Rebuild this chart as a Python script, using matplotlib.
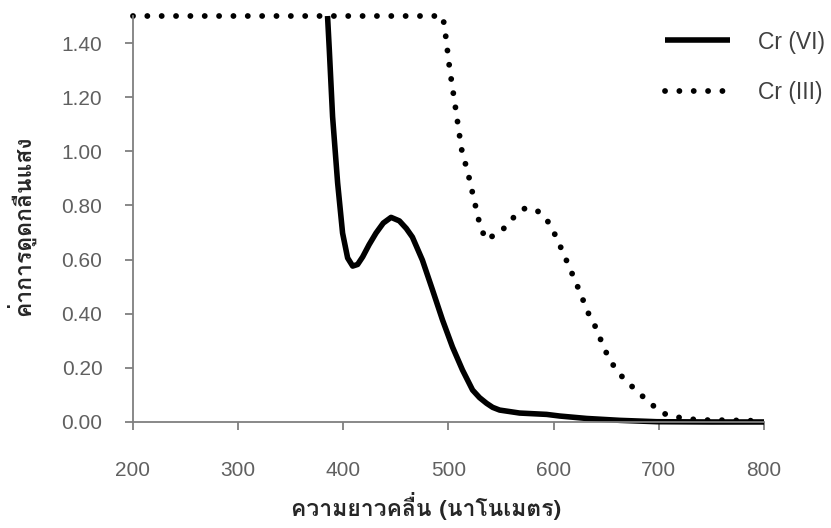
import numpy as np
import matplotlib
matplotlib.use('Agg')
import matplotlib.pyplot as plt
from matplotlib import font_manager
from matplotlib.ft2font import FT2Font

# ค่าการดูดกลืนแสงของ Cr (VI) และ Cr (III) ที่ความยาวคลื่นต่าง ๆ
wl_cr6 = [385, 386.7, 389.8, 394.6, 399.3, 404.1, 408.9, 413.6, 418.4, 424.5,
          431.1, 438, 445.4, 453.3, 459.9, 465.7, 475.2, 484.8, 494.3, 503.8,
          513.3, 522.9, 529.5, 536.2, 542, 548.6, 567.6, 593.3, 605.7, 631.4,
          662.9, 698, 750, 800]
abs_cr6 = [1.5, 1.374, 1.128, 0.883, 0.698, 0.606, 0.576, 0.582, 0.610, 0.655,
           0.698, 0.735, 0.756, 0.743, 0.715, 0.683, 0.598, 0.488, 0.377, 0.277,
           0.192, 0.118, 0.090, 0.069, 0.054, 0.044, 0.033, 0.028, 0.022, 0.013,
           0.006, 0.001, 0.0, 0.0]

wl_cr3 = [200, 300, 400, 494.3, 496.2, 501, 506.7, 512.4, 519, 524.8, 530.5,
          536.2, 541.9, 550.5, 557.1, 564.8, 573.3, 584.8, 592.4, 598.1, 603.8,
          608.6, 613.3, 618.1, 622.9, 627.6, 632.4, 638.1, 642.9, 647.6, 652.4,
          659, 666, 674, 681, 689.5, 697.1, 705.7, 717.1, 728.6, 741.9, 755.2, 799]
abs_cr3 = [1.5, 1.5, 1.5, 1.5, 1.463, 1.308, 1.160, 1.008, 0.912, 0.813, 0.717,
           0.672, 0.687, 0.706, 0.735, 0.768, 0.791, 0.779, 0.754, 0.717, 0.672,
           0.628, 0.587, 0.543, 0.499, 0.454, 0.406, 0.366, 0.321, 0.277, 0.236,
           0.196, 0.163, 0.133, 0.107, 0.078, 0.052, 0.030, 0.018, 0.011, 0.007,
           0.007, 0.004]

labels = ['Cr (VI)', 'Cr (III)']
xticks = [200, 300, 400, 500, 600, 700, 800]
yticks = [0.0, 0.2, 0.4, 0.6, 0.8, 1.0, 1.2, 1.4]
xlabel = 'ความยาวคลื่น (นาโนเมตร)'
ylabel = 'ค่าการดูดกลืนแสง'


def thai_font():
    # หาฟอนต์ที่มีอักษรไทย
    for f in font_manager.fontManager.ttflist:
        try:
            if 0x0E04 in FT2Font(f.fname).get_charmap():
                return f.name
        except Exception:
            pass
    return 'DejaVu Sans'


thai = thai_font()
plt.rcParams['font.family'] = ['Liberation Sans', 'DejaVu Sans']

fig = plt.figure(figsize=(8.31, 5.28), dpi=100)
ax = fig.add_axes([0.160, 0.2008, 0.7594, 0.7689])

ax.plot(wl_cr6, abs_cr6, color='black', linewidth=4.0, solid_capstyle='butt',
        solid_joinstyle='round', clip_on=False, label=labels[0])
ax.plot(wl_cr3, abs_cr3, color='black', linewidth=4.2,
        linestyle=(0, (0.01, 2.45)), dash_capstyle='round',
        clip_on=False, label=labels[1])

ax.set_xlim(200, 800)
ax.set_ylim(0, 1.5)
ax.set_xticks(xticks)
ax.set_yticks(yticks)
ax.set_yticklabels(['%.2f' % v for v in yticks])

for s in ['top', 'right']:
    ax.spines[s].set_visible(False)
for s in ['left', 'bottom']:
    ax.spines[s].set_color('#7f7f7f')
    ax.spines[s].set_linewidth(1.3)

ax.tick_params(axis='both', direction='out', length=6, width=1.3,
               color='#7f7f7f', labelsize=15, labelcolor='#606060')
ax.tick_params(axis='x', pad=22)
ax.tick_params(axis='y', pad=16)

ax.set_xlabel(xlabel, family=[thai, 'DejaVu Sans'], fontsize=16.5,
              fontweight='bold', color='#262626', va='center')
ax.xaxis.set_label_coords(0.464, -0.207)
ax.set_ylabel(ylabel, family=[thai, 'DejaVu Sans'], fontsize=16.5,
              fontweight='bold', color='#262626', va='center')
ax.yaxis.set_label_coords(-0.1775, 0.483)

leg = ax.legend(loc='upper left', bbox_to_anchor=(665 / 831, 1 - 30.5 / 528),
                bbox_transform=fig.transFigure, frameon=False, fontsize=16.5,
                handlelength=2.84, handletextpad=1.2, labelspacing=1.2,
                borderpad=0, borderaxespad=0)
for t in leg.get_texts():
    t.set_color('#404040')

fig.savefig('out.png', dpi=100)
